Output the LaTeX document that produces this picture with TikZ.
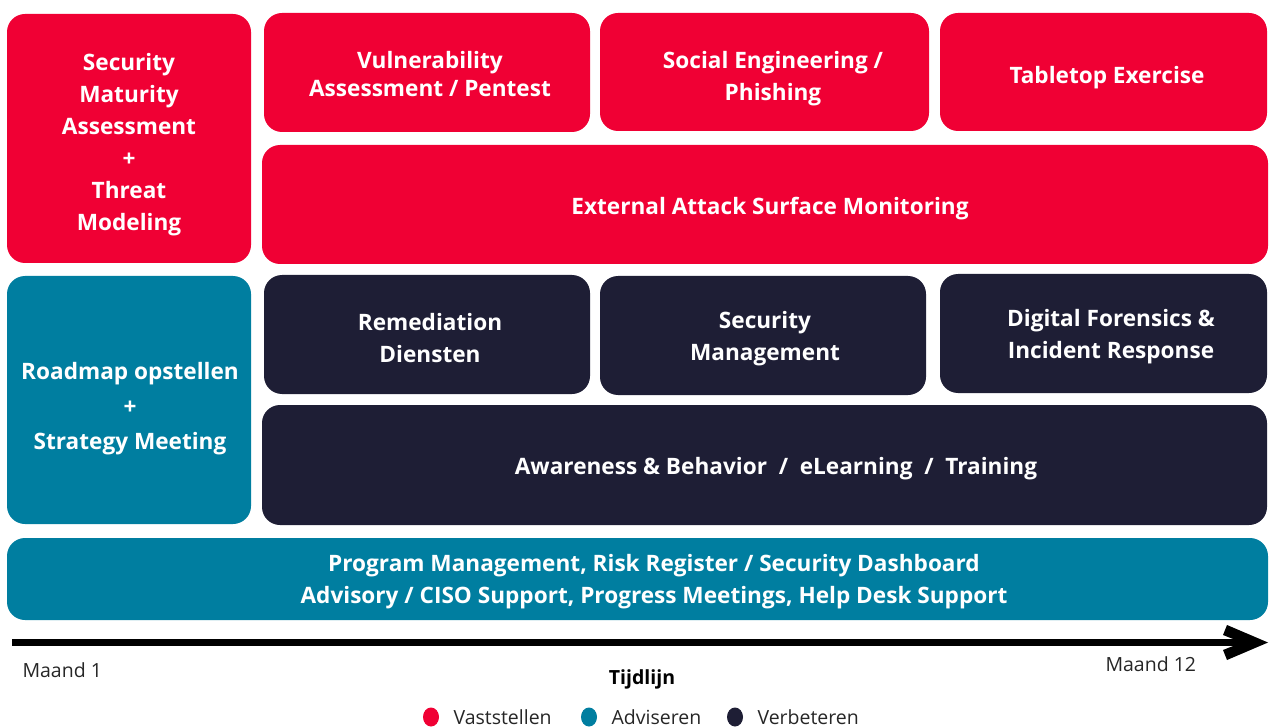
\documentclass[tikz,border=0pt]{standalone}
\usepackage{fontspec}
\setmainfont{Open Sans}
\definecolor{cred}{HTML}{F00034}
\definecolor{cteal}{HTML}{007EA0}
\definecolor{cnavy}{HTML}{1E1E35}
\tikzset{
  lbl/.style={text=white, align=center, font=\fontsize{22.6}{32}\selectfont\bfseries},
  plain/.style={font=\fontsize{19.5}{22}\selectfont, text=black!85},
}
\begin{document}
\begin{tikzpicture}[x=1pt,y=-1pt]
\useasboundingbox (0,0) rectangle (1271,727);
% red row
\fill[cred, rounded corners=18pt] (7,14) rectangle (251,263);
\node[lbl] (sma) at (129,145) {Security\\Maturity\\Assessment\\+\\Threat\\Modeling};
\fill[cred, rounded corners=18pt] (264,13) rectangle (590,132);
\node[lbl, font=\fontsize{22.6}{28}\selectfont\bfseries] (vuln) at (430,74) {Vulnerability\\Assessment / Pentest};
\fill[cred, rounded corners=18pt] (600,13) rectangle (929,131);
\node[lbl] (soc) at (773,79) {Social Engineering /\\Phishing};
\fill[cred, rounded corners=18pt] (940,13) rectangle (1267,131);
\node[lbl] (tab) at (1107,78) {Tabletop Exercise};
\fill[cred, rounded corners=18pt] (262,145) rectangle (1268,264);
\node[lbl] (easm) at (770,209) {External Attack Surface Monitoring};
% teal / navy row
\fill[cteal, rounded corners=18pt] (7,276) rectangle (251,524);
\node[lbl, font=\fontsize{22.6}{35}\selectfont\bfseries] (road) at (130,409) {Roadmap opstellen\\+\\Strategy Meeting};
\fill[cnavy, rounded corners=18pt] (264,275) rectangle (590,394);
\node[lbl] (rem) at (430,338) {Remediation\\Diensten};
\fill[cnavy, rounded corners=18pt] (600,276) rectangle (926,395);
\node[lbl] (secm) at (765,339) {Security\\Management};
\fill[cnavy, rounded corners=18pt] (940,274) rectangle (1267,393);
\node[lbl] (dfir) at (1111,337) {Digital Forensics \&\\Incident Response};
\fill[cnavy, rounded corners=18pt] (262,405) rectangle (1267,525);
\node[lbl] (aw) at (776,469) {Awareness \& Behavior~~/~~eLearning~~/~~Training};
% program
\fill[cteal, rounded corners=18pt] (7,538) rectangle (1268,620);
\node[lbl] (prog) at (654,582) {Program Management, Risk Register / Security Dashboard\\Advisory / CISO Support, Progress Meetings, Help Desk Support};
% timeline
\coordinate (t0) at (12,642.5);
\coordinate (t1) at (1250,642.5);
\draw[line width=7pt] (t0) -- (t1);
\fill (1227,625) -- (1268,642.5) -- (1227,660) -- (1223,650) -- (1242,642.5) -- (1223,635) -- cycle;
\node[plain, anchor=west] (m1) at (19,670) {Maand 1};
\node[plain, anchor=west] (m12) at (1102,664) {Maand 12};
\node[font=\fontsize{19.5}{22}\selectfont\bfseries] (tl) at (642,679) {Tijdlijn};
% legend
\fill[cred] (431,717) ellipse (8 and 9.5);
\node[plain, anchor=west] (l1) at (450,717) {Vaststellen};
\fill[cteal] (589,717) ellipse (8 and 9.5);
\node[plain, anchor=west] (l2) at (608,717) {Adviseren};
\fill[cnavy] (735,717) ellipse (8 and 9.5);
\node[plain, anchor=west] (l3) at (754,717) {Verbeteren};
\end{tikzpicture}
\end{document}
